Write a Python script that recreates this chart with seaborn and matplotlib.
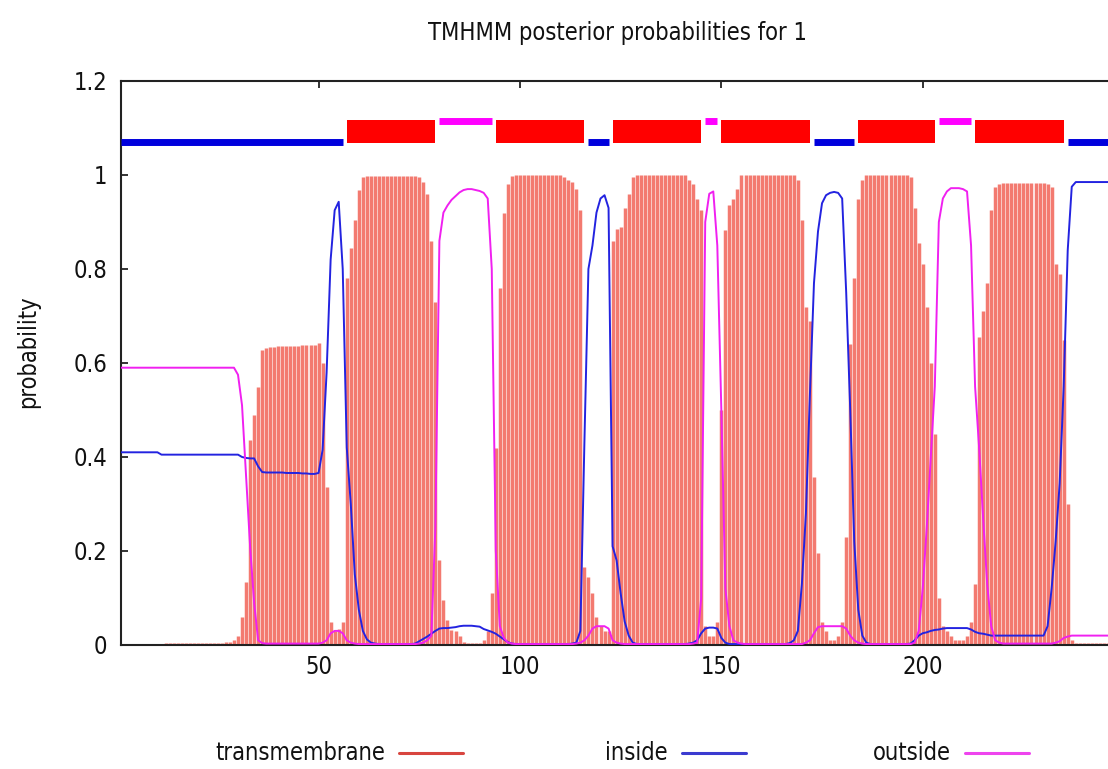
import numpy as np
import matplotlib
matplotlib.use("Agg")
import matplotlib.pyplot as plt
from matplotlib import font_manager
from matplotlib.lines import Line2D
import seaborn as sns

# posterior probabilities per residue (1..246)
tm_prob = [
    0, 0, 0, 0, 0, 0, 0, 0, 0, 0,                                              # 1-10
    0.002, 0.004, 0.004, 0.004, 0.004, 0.004, 0.004, 0.004, 0.004, 0.004,      # 11-20
    0.004, 0.004, 0.004, 0.004, 0.004, 0.005, 0.006, 0.006, 0.01, 0.02,        # 21-30
    0.06, 0.135, 0.436, 0.49, 0.55, 0.628, 0.632, 0.634, 0.635, 0.636,         # 31-40
    0.636, 0.636, 0.637, 0.637, 0.637, 0.638, 0.638, 0.638, 0.639, 0.642,      # 41-50
    0.6, 0.337, 0.05, 0.03, 0.035, 0.05, 0.78, 0.845, 0.904, 0.968,            # 51-60
    0.996, 0.998, 0.998, 0.998, 0.998, 0.998, 0.998, 0.998, 0.998, 0.998,      # 61-70
    0.998, 0.998, 0.998, 0.997, 0.995, 0.985, 0.96, 0.86, 0.73, 0.18,          # 71-80
    0.096, 0.053, 0.032, 0.03, 0.02, 0.006, 0.004, 0.004, 0.004, 0.005,        # 81-90
    0.01, 0.03, 0.11, 0.42, 0.76, 0.92, 0.98, 0.997, 1.0, 1.0,                 # 91-100
    1.0, 1.0, 1.0, 1.0, 1.0, 1.0, 1.0, 1.0, 1.0, 1.0,                          # 101-110
    0.995, 0.99, 0.985, 0.97, 0.925, 0.167, 0.145, 0.11, 0.06, 0.04,           # 111-120
    0.03, 0.03, 0.86, 0.885, 0.89, 0.93, 0.96, 0.995, 1.0, 1.0,                # 121-130
    1.0, 1.0, 1.0, 1.0, 1.0, 1.0, 1.0, 1.0, 1.0, 1.0,                          # 131-140
    1.0, 0.99, 0.98, 0.95, 0.925, 0.04, 0.02, 0.02, 0.05, 0.5,                 # 141-150
    0.883, 0.936, 0.95, 0.97, 1.0, 1.0, 1.0, 1.0, 1.0, 1.0,                    # 151-160
    1.0, 1.0, 1.0, 1.0, 1.0, 1.0, 1.0, 1.0, 0.99, 0.904,                       # 161-170
    0.72, 0.69, 0.358, 0.195, 0.05, 0.03, 0.01, 0.01, 0.02, 0.05,              # 171-180
    0.23, 0.64, 0.78, 0.95, 0.99, 1.0, 1.0, 1.0, 1.0, 1.0,                     # 181-190
    1.0, 1.0, 1.0, 1.0, 1.0, 1.0, 0.995, 0.93, 0.855, 0.81,                    # 191-200
    0.72, 0.6, 0.45, 0.1, 0.04, 0.03, 0.02, 0.01, 0.01, 0.01,                  # 201-210
    0.02, 0.05, 0.13, 0.656, 0.71, 0.77, 0.925, 0.975, 0.98, 0.983,            # 211-220
    0.983, 0.983, 0.983, 0.983, 0.983, 0.983, 0.983, 0.983, 0.983, 0.983,      # 221-230
    0.98, 0.975, 0.81, 0.79, 0.65, 0.30, 0.01, 0.004, 0.004, 0.004,            # 231-240
    0.004, 0.004, 0.004, 0.004, 0.004, 0.004,                                  # 241-246
]

inside_prob = [
    0.41, 0.41, 0.41, 0.41, 0.41, 0.41, 0.41, 0.41, 0.41, 0.41,                # 1-10
    0.405, 0.405, 0.405, 0.405, 0.405, 0.405, 0.405, 0.405, 0.405, 0.405,      # 11-20
    0.405, 0.405, 0.405, 0.405, 0.405, 0.405, 0.405, 0.405, 0.405, 0.405,      # 21-30
    0.40, 0.398, 0.397, 0.397, 0.38, 0.368, 0.367, 0.367, 0.367, 0.367,        # 31-40
    0.367, 0.366, 0.366, 0.366, 0.366, 0.365, 0.365, 0.364, 0.364, 0.366,      # 41-50
    0.415, 0.58, 0.82, 0.925, 0.943, 0.80, 0.42, 0.3, 0.15, 0.075,             # 51-60
    0.03, 0.012, 0.005, 0.003, 0.002, 0.002, 0.002, 0.002, 0.002, 0.002,       # 61-70
    0.002, 0.002, 0.002, 0.003, 0.008, 0.013, 0.018, 0.024, 0.03, 0.035,       # 71-80
    0.036, 0.036, 0.037, 0.038, 0.04, 0.041, 0.041, 0.041, 0.04, 0.039,        # 81-90
    0.034, 0.031, 0.028, 0.024, 0.018, 0.012, 0.006, 0.003, 0.002, 0.002,      # 91-100
    0.002, 0.002, 0.002, 0.002, 0.002, 0.002, 0.002, 0.002, 0.002, 0.002,      # 101-110
    0.002, 0.002, 0.003, 0.005, 0.03, 0.43, 0.80, 0.85, 0.92, 0.95,            # 111-120
    0.957, 0.93, 0.21, 0.18, 0.11, 0.05, 0.02, 0.005, 0.002, 0.002,            # 121-130
    0.002, 0.002, 0.002, 0.002, 0.002, 0.002, 0.002, 0.002, 0.002, 0.002,      # 131-140
    0.002, 0.003, 0.005, 0.01, 0.025, 0.035, 0.037, 0.037, 0.035, 0.015,       # 141-150
    0.005, 0.002, 0.002, 0.002, 0.002, 0.002, 0.002, 0.002, 0.002, 0.002,      # 151-160
    0.002, 0.002, 0.002, 0.002, 0.002, 0.002, 0.004, 0.01, 0.03, 0.13,         # 161-170
    0.28, 0.535, 0.77, 0.88, 0.94, 0.957, 0.962, 0.964, 0.962, 0.95,           # 171-180
    0.75, 0.5, 0.22, 0.075, 0.02, 0.005, 0.002, 0.002, 0.002, 0.002,           # 181-190
    0.002, 0.002, 0.002, 0.002, 0.002, 0.002, 0.003, 0.01, 0.02, 0.025,        # 191-200
    0.027, 0.03, 0.032, 0.033, 0.035, 0.036, 0.036, 0.036, 0.036, 0.036,       # 201-210
    0.036, 0.033, 0.028, 0.025, 0.024, 0.022, 0.02, 0.02, 0.02, 0.02,          # 211-220
    0.02, 0.02, 0.02, 0.02, 0.02, 0.02, 0.02, 0.02, 0.02, 0.02,                # 221-230
    0.04, 0.12, 0.22, 0.344, 0.55, 0.84, 0.975, 0.985, 0.985, 0.985,           # 231-240
    0.985, 0.985, 0.985, 0.985, 0.985, 0.985,                                  # 241-246
]

outside_prob = [
    0.59, 0.59, 0.59, 0.59, 0.59, 0.59, 0.59, 0.59, 0.59, 0.59,                # 1-10
    0.59, 0.59, 0.59, 0.59, 0.59, 0.59, 0.59, 0.59, 0.59, 0.59,                # 11-20
    0.59, 0.59, 0.59, 0.59, 0.59, 0.59, 0.59, 0.59, 0.59, 0.575,               # 21-30
    0.51, 0.36, 0.21, 0.09, 0.01, 0.004, 0.003, 0.003, 0.003, 0.003,           # 31-40
    0.003, 0.003, 0.003, 0.003, 0.003, 0.003, 0.003, 0.003, 0.003, 0.003,      # 41-50
    0.005, 0.01, 0.025, 0.03, 0.03, 0.025, 0.01, 0.005, 0.003, 0.002,          # 51-60
    0.002, 0.002, 0.002, 0.002, 0.002, 0.002, 0.002, 0.002, 0.002, 0.002,      # 61-70
    0.002, 0.002, 0.002, 0.002, 0.003, 0.005, 0.01, 0.02, 0.25, 0.86,          # 71-80
    0.92, 0.935, 0.947, 0.955, 0.963, 0.968, 0.97, 0.97, 0.968, 0.966,         # 81-90
    0.962, 0.95, 0.8, 0.2, 0.04, 0.015, 0.005, 0.003, 0.002, 0.002,            # 91-100
    0.002, 0.002, 0.002, 0.002, 0.002, 0.002, 0.002, 0.002, 0.002, 0.002,      # 101-110
    0.002, 0.002, 0.002, 0.003, 0.005, 0.01, 0.02, 0.035, 0.04, 0.04,          # 111-120
    0.04, 0.035, 0.01, 0.005, 0.003, 0.002, 0.002, 0.002, 0.002, 0.002,        # 121-130
    0.002, 0.002, 0.002, 0.002, 0.002, 0.002, 0.002, 0.002, 0.002, 0.002,      # 131-140
    0.002, 0.002, 0.003, 0.005, 0.1, 0.9, 0.96, 0.965, 0.85, 0.5,              # 141-150
    0.12, 0.04, 0.01, 0.005, 0.003, 0.002, 0.002, 0.002, 0.002, 0.002,         # 151-160
    0.002, 0.002, 0.002, 0.002, 0.002, 0.002, 0.002, 0.002, 0.002, 0.002,      # 161-170
    0.005, 0.01, 0.025, 0.038, 0.04, 0.04, 0.04, 0.04, 0.04, 0.04,             # 171-180
    0.035, 0.02, 0.01, 0.005, 0.003, 0.002, 0.002, 0.002, 0.002, 0.002,        # 181-190
    0.002, 0.002, 0.002, 0.002, 0.002, 0.002, 0.002, 0.005, 0.03, 0.12,        # 191-200
    0.25, 0.4, 0.55, 0.9, 0.95, 0.965, 0.972, 0.972, 0.972, 0.97,              # 201-210
    0.965, 0.85, 0.55, 0.42, 0.27, 0.13, 0.04, 0.01, 0.005, 0.003,             # 211-220
    0.003, 0.003, 0.003, 0.003, 0.003, 0.003, 0.003, 0.003, 0.003, 0.003,      # 221-230
    0.003, 0.003, 0.005, 0.008, 0.015, 0.018, 0.02, 0.02, 0.02, 0.02,          # 231-240
    0.02, 0.02, 0.02, 0.02, 0.02, 0.02,                                        # 241-246
]

# predicted topology (top bar)
seg_kind = ["inside", "tm", "outside", "tm", "inside", "tm", "outside",
            "tm", "inside", "tm", "outside", "tm", "inside"]
seg_start = [1, 57, 80, 94, 117, 123, 146, 150, 173, 184, 204, 213, 236]
seg_end = [56, 79, 93, 116, 122, 145, 149, 172, 183, 203, 212, 235, 246]

x_ticks = [50, 100, 150, 200]
x_tick_labels = ["50", "100", "150", "200"]
y_ticks = [0, 0.2, 0.4, 0.6, 0.8, 1.0, 1.2]
y_tick_labels = ["0", "0.2", "0.4", "0.6", "0.8", "1", "1.2"]
legend_labels = ["transmembrane", "inside", "outside"]

TM_BAR = "#f37a70"
TM_BOX = "#ff0000"
IN_COL = "#2323e0"
OUT_COL = "#f020f0"

sns.set_style("ticks")
fonts = font_manager.fontManager.ttflist
names = {f.name for f in fonts}
stretch = "normal"
if "Liberation Sans Narrow" in names:
    family, fs = "Liberation Sans Narrow", 21
elif any(f.name == "DejaVu Sans" and f.stretch == "condensed" for f in fonts):
    family, fs, stretch = "DejaVu Sans", 17, "condensed"
else:
    family, fs = "DejaVu Sans", 15
plt.rcParams["font.family"] = [family, "DejaVu Sans"]
plt.rcParams["font.stretch"] = stretch

W, H = 1108, 769
fig = plt.figure(figsize=(W / 100, H / 100), dpi=100)
ax = fig.add_axes([121.2 / W, 1 - 645 / H, (W - 121.2) / W, (645 - 81) / H])

pos = np.arange(1, len(tm_prob) + 1)

# transmembrane impulses
ax.vlines(pos, 0, tm_prob, colors=TM_BAR, linewidth=2.5, zorder=2)

sns.lineplot(x=pos, y=inside_prob, color=IN_COL, linewidth=1.4, ax=ax,
             errorbar=None, legend=False, zorder=3)
sns.lineplot(x=pos, y=outside_prob, color=OUT_COL, linewidth=1.4, ax=ax,
             errorbar=None, legend=False, zorder=3)

# topology bar above the curves
for kind, s, e in zip(seg_kind, seg_start, seg_end):
    if kind == "tm":
        ax.fill_between([s, e], 1.068, 1.117, color=TM_BOX, linewidth=0, zorder=4)
    elif kind == "inside":
        ax.plot([s, e], [1.071, 1.071], color="#0000dd", linewidth=5,
                solid_capstyle="butt", zorder=4)
    else:
        ax.plot([s, e], [1.114, 1.114], color="#ff00ff", linewidth=5,
                solid_capstyle="butt", zorder=4)

ax.set_xlim(1, 246.0)
ax.set_ylim(0, 1.2)
ax.set_xticks(x_ticks)
ax.set_xticklabels(x_tick_labels)
ax.set_yticks(y_ticks)
ax.set_yticklabels(y_tick_labels)
ax.set_xlabel("")
ax.set_ylabel("")
ax.tick_params(axis="both", direction="in", length=5, width=1.2,
               top=True, labelsize=fs, colors="#111111")
ax.tick_params(axis="y", pad=10)
ax.tick_params(axis="x", pad=7)
ax.spines["right"].set_visible(False)
for side in ["left", "top", "bottom"]:
    ax.spines[side].set_linewidth(1.5)
    ax.spines[side].set_color("#222222")

fig.text(618 / W, 1 - 33 / H, "TMHMM posterior probabilities for 1",
         ha="center", va="center", fontsize=fs, color="#111111")
fig.text(28 / W, 1 - 352 / H, "probability", rotation=90,
         ha="center", va="center", fontsize=fs, color="#111111")

# key at the bottom: text then line sample
leg_colors = ["#d8453f", "#3b3bd0", "#ee44ee"]
for label, col, x0 in zip(legend_labels, leg_colors, [399, 682, 965]):
    fig.text((x0 - 14) / W, 1 - 753 / H, label, ha="right", va="center",
             fontsize=fs, color="#111111")
    fig.add_artist(Line2D([x0 / W, (x0 + 64) / W], [1 - 753 / H] * 2,
                          color=col, linewidth=2.2, transform=fig.transFigure))

fig.savefig("out.png", dpi=100)
